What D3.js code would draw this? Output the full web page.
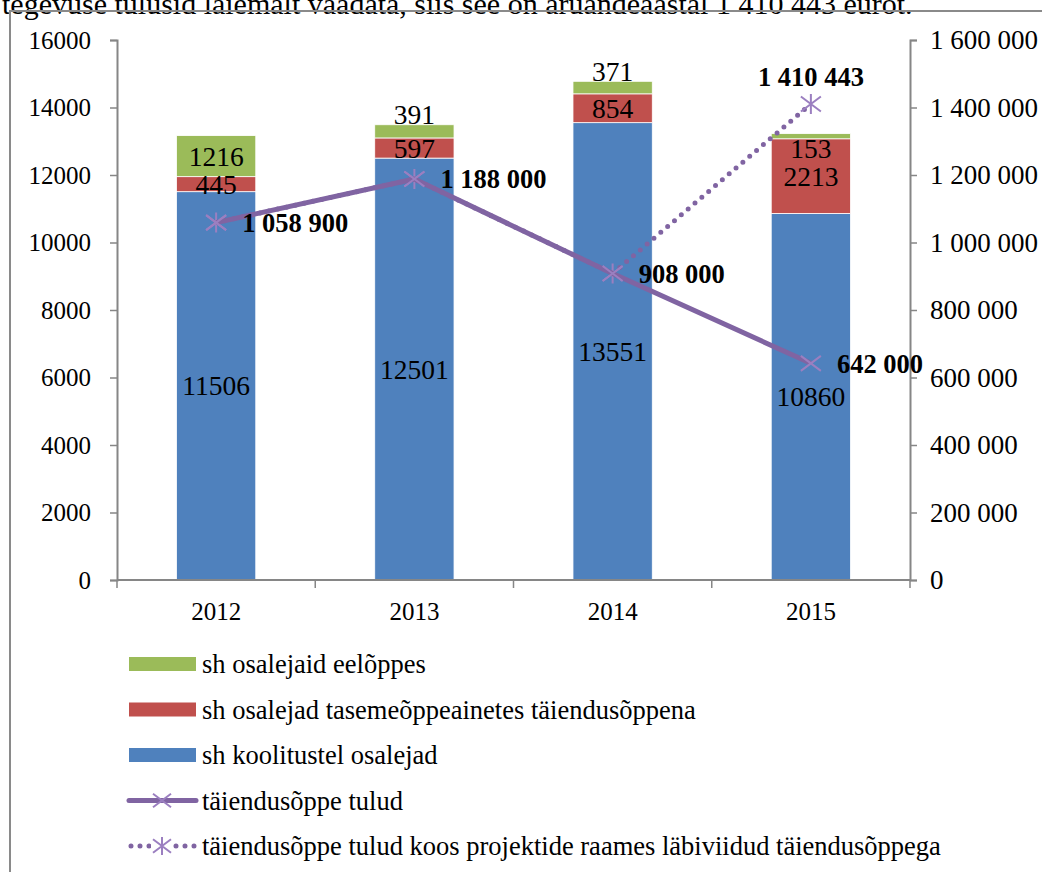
<!DOCTYPE html>
<html>
<head>
<meta charset="utf-8">
<script src="https://cdn.jsdelivr.net/npm/d3@7"></script>
<style>
  body { margin: 0; background: #fff; }
  svg { display: block; font-family: "Liberation Serif", "Times New Roman", serif; }
</style>
</head>
<body>
<script>
// Data
var years = ["2012", "2013", "2014", "2015"];
var koolitustel = [11506, 12501, 13551, 10860];
var tasemeope = [445, 597, 854, 2213];
var eeloppes = [1216, 391, 371, 153];
var tulud = [1058900, 1188000, 908000, 642000];
var tuludKoos = [1058900, 1188000, 908000, 1410443];
var leftTicks = [0, 2000, 4000, 6000, 8000, 10000, 12000, 14000, 16000];
var rightTicks = [0, 200000, 400000, 600000, 800000, 1000000, 1200000, 1400000, 1600000];

var seriesNames = ["sh koolitustel osalejad", "sh osalejad tasemeõppeainetes täiendusõppena", "sh osalejaid eelõppes"];
var seriesColors = ["#4F81BD", "#C0504D", "#9BBB59"];
var lineColor = "#8064A2";

var W = 1042, H = 872;
var margin = {top: 40, right: 132, bottom: 292, left: 117},
    width = W - margin.left - margin.right,
    height = H - margin.top - margin.bottom;

var svg = d3.select("body").append("svg")
    .attr("width", W)
    .attr("height", H);

// paragraph text above the chart frame (cut by the page edge, as in the source)
svg.append("text")
    .attr("x", 2)
    .attr("y", 14)
    .attr("font-size", 30)
    .text("tegevuse tulusid laiemalt vaadata, siis see on aruandeaastal 1 410 443 eurot.");

// chart frame
svg.append("path")
    .attr("d", "M10," + H + "V11H" + W)
    .attr("fill", "none")
    .attr("stroke", "#8a8a8a")
    .attr("stroke-width", 2);

var g = svg.append("g")
    .attr("transform", "translate(" + margin.left + "," + margin.top + ")");

// scales
var x = d3.scaleBand()
    .domain(years)
    .range([0, width])
    .paddingInner(0.6)
    .paddingOuter(0.3);
var y = d3.scaleLinear().domain([0, 16000]).range([height, 0]);
var y2 = d3.scaleLinear().domain([0, 1600000]).range([height, 0]);

var fmt = function(v) { return d3.format(",")(v).replace(/,/g, " "); };

// stacked bars
var rows = years.map(function(yr, i) {
    return {year: yr, s0: koolitustel[i], s1: tasemeope[i], s2: eeloppes[i]};
});
var stack = d3.stack().keys(["s0", "s1", "s2"]);
var stacked = stack(rows);

// manual nudges Excel used for small labels
var nudge = {"2-1": -17, "2-2": -16, "2-3": 12};

stacked.forEach(function(layer, si) {
    g.append("g").selectAll("rect")
        .data(layer)
      .enter().append("rect")
        .attr("x", function(d) { return x(d.data.year); })
        .attr("y", function(d) { return y(d[1]); })
        .attr("width", x.bandwidth())
        .attr("height", function(d) { return y(d[0]) - y(d[1]); })
        .attr("fill", seriesColors[si])
        .attr("stroke", "#fff")
        .attr("stroke-width", 0.8);
});

stacked.forEach(function(layer, si) {
    g.append("g").selectAll("text")
        .data(layer)
      .enter().append("text")
        .attr("x", function(d) { return x(d.data.year) + x.bandwidth() / 2; })
        .attr("y", function(d, i) {
            return (y(d[0]) + y(d[1])) / 2 + (nudge[si + "-" + i] || 0);
        })
        .attr("dy", "0.35em")
        .attr("text-anchor", "middle")
        .attr("font-size", 27.5)
        .text(function(d) { return d[1] - d[0]; });
});

// axes
var axisColor = "#868686";
var leftAxis = d3.axisLeft(y).tickValues(leftTicks).tickSize(7).tickPadding(19)
    .tickFormat(d3.format("d"));
var rightAxis = d3.axisRight(y2).tickValues(rightTicks).tickSize(7).tickPadding(13)
    .tickFormat(fmt);
var bottomAxis = d3.axisBottom(x).tickSize(0).tickPadding(22);

function styleAxis(sel, fs) {
    sel.selectAll("path, line").attr("stroke", axisColor).attr("stroke-width", 1.5);
    sel.selectAll("text").attr("font-size", fs).attr("font-family", "Liberation Serif").attr("fill", "#000");
    sel.select(".domain").attr("stroke-width", 2);
}

g.append("g").attr("class", "y axis").call(leftAxis).call(styleAxis, 25)
    .select(".domain").attr("d", "M-7,0.5H0.5V" + (height + 0.5) + "H-7");
g.append("g").attr("class", "y2 axis").attr("transform", "translate(" + width + ",0)")
    .call(rightAxis).call(styleAxis, 27)
    .select(".domain").attr("d", "M7,0.5H0.5V" + (height + 0.5) + "H7");
var xa = g.append("g").attr("class", "x axis")
    .attr("transform", "translate(0," + height + ")")
    .call(bottomAxis).call(styleAxis, 25);
xa.select(".domain").attr("d", "M0,0H" + width);
// category boundary ticks
xa.selectAll(".bound")
    .data(d3.range(years.length + 1))
  .enter().append("line")
    .attr("class", "bound")
    .attr("x1", function(i) { return i * width / years.length; })
    .attr("x2", function(i) { return i * width / years.length; })
    .attr("y1", 0).attr("y2", 8)
    .attr("stroke", axisColor).attr("stroke-width", 1.5);

// lines
var cx = function(d, i) { return x(years[i]) + x.bandwidth() / 2; };
var line = d3.line()
    .x(cx)
    .y(function(d) { return y2(d); });

function star(sel, cxv, cyv, r, withVert, sw) {
    sel.append("path")
        .attr("d", "M" + (cxv - r) + "," + (cyv - r * 0.75) + "L" + (cxv + r) + "," + (cyv + r * 0.75) +
            "M" + (cxv - r) + "," + (cyv + r * 0.75) + "L" + (cxv + r) + "," + (cyv - r * 0.75) +
            (withVert ? "M" + cxv + "," + (cyv - r) + "V" + (cyv + r) : ""))
        .attr("stroke", "#9b7fc0")
        .attr("stroke-width", sw)
        .attr("fill", "none");
}

// dotted series (drawn under solid)
g.append("path")
    .datum(tuludKoos)
    .attr("d", line)
    .attr("fill", "none")
    .attr("stroke", lineColor)
    .attr("stroke-width", 5)
    .attr("stroke-linecap", "round")
    .attr("stroke-dasharray", "0 9");
tuludKoos.forEach(function(v, i) {
    star(g, cx(v, i), y2(v), 10, true, 2);
});

// solid series
g.append("path")
    .datum(tulud)
    .attr("d", line)
    .attr("fill", "none")
    .attr("stroke", lineColor)
    .attr("stroke-width", 5)
    .attr("stroke-linejoin", "round");
tulud.forEach(function(v, i) {
    star(g, cx(v, i), y2(v), 10, false, 2);
});

// line labels
g.selectAll(".tlabel")
    .data(tulud)
  .enter().append("text")
    .attr("class", "tlabel")
    .attr("x", function(d, i) { return cx(d, i) + 26; })
    .attr("y", function(d) { return y2(d); })
    .attr("dy", "0.35em")
    .attr("font-size", 26.5)
    .attr("font-weight", "bold")
    .text(fmt);
g.append("text")
    .attr("x", cx(0, 3))
    .attr("y", y2(tuludKoos[3]) - 27)
    .attr("dy", "0.35em")
    .attr("text-anchor", "middle")
    .attr("font-size", 26.5)
    .attr("font-weight", "bold")
    .text(fmt(tuludKoos[3]));

// legend
var legendItems = [
    {name: seriesNames[2], type: "rect", color: seriesColors[2]},
    {name: seriesNames[1], type: "rect", color: seriesColors[1]},
    {name: seriesNames[0], type: "rect", color: seriesColors[0]},
    {name: "täiendusõppe tulud", type: "solid"},
    {name: "täiendusõppe tulud koos projektide raames läbiviidud täiendusõppega", type: "dotted"}
];
var lgd = svg.append("g").attr("transform", "translate(129,664)");
legendItems.forEach(function(it, i) {
    var row = lgd.append("g").attr("transform", "translate(0," + (i * 45.5) + ")");
    if (it.type === "rect") {
        row.append("rect").attr("x", 0).attr("y", -7).attr("width", 67).attr("height", 14).attr("fill", it.color);
    } else if (it.type === "solid") {
        row.append("line").attr("x1", 0).attr("x2", 67).attr("y1", 0).attr("y2", 0)
            .attr("stroke", lineColor).attr("stroke-width", 5).attr("stroke-linecap", "round");
        star(row, 33, 0, 9, false, 2);
    } else {
        row.append("line").attr("x1", 2).attr("x2", 67).attr("y1", 0).attr("y2", 0)
            .attr("stroke", lineColor).attr("stroke-width", 5).attr("stroke-linecap", "round")
            .attr("stroke-dasharray", "0 9");
        row.append("rect").attr("x", 22).attr("y", -12).attr("width", 22).attr("height", 24).attr("fill", "#fff");
        star(row, 33, 0, 9, true, 2);
    }
    row.append("text")
        .attr("x", 73)
        .attr("y", 0)
        .attr("dy", "0.35em")
        .attr("font-size", 26.5)
        .text(it.name);
});
</script>
</body>
</html>
